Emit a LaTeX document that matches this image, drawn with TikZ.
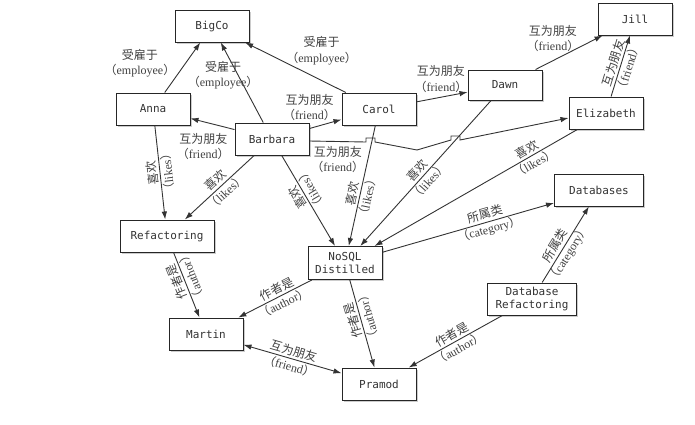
\documentclass[tikz,border=0pt]{standalone}
\usepackage{fontspec}
\setmainfont{Liberation Serif}
\setmonofont{DejaVu Sans Mono}
\newfontfamily\cjk{Noto Sans CJK SC}
\usetikzlibrary{arrows.meta,shadows}
\newcommand{\reltext}[2]{{\cjk #1}\\{\cjk （}#2{\cjk ）}}

\begin{document}
\begin{tikzpicture}[
        x=1pt, y=-1pt,
        >={Latex[length=8pt,width=5.5pt]},
        entity/.style={rectangle, draw=black!85, line width=1pt, fill=white,
            minimum width=74pt, minimum height=32pt, inner sep=2pt,
            text=black!80, font=\ttfamily\fontsize{11}{13}\selectfont, align=center,
            drop shadow={shadow xshift=1.5pt, shadow yshift=-1.5pt, fill=black!40}},
        rel/.style={draw=black!80, line width=0.9pt, ->},
        lbl/.style={font=\fontsize{12}{15.5}\selectfont, align=center, inner sep=0pt, text=black!75},
        along/.style={lbl, sloped},
        flipped/.style={lbl, sloped, rotate=180}
    ]
    \useasboundingbox (0,0) rectangle (695,424);

    \node[entity] (bigco) at (212,26) {BigCo};
    \node[entity] (jill) at (635,19) {Jill};
    \node[entity] (anna) at (153,109) {Anna};
    \node[entity] (carol) at (379,109) {Carol};
    \node[entity, minimum height=30pt] (dawn) at (505,85) {Dawn};
    \node[entity] (barbara) at (272,139) {Barbara};
    \node[entity] (elizabeth) at (606,113) {Elizabeth};
    \node[entity, minimum width=94pt] (refactoring) at (167,236) {Refactoring};
    \node[entity, minimum width=89pt] (databases) at (599,190) {Databases};
    \node[entity, minimum height=33pt] (nosql) at (345,263) {NoSQL\\Distilled};
    \node[entity, minimum width=89pt] (dbrefactoring) at (532,299) {Database\\Refactoring};
    \node[entity] (martin) at (206,334) {Martin};
    \node[entity] (pramod) at (379,384) {Pramod};

    \coordinate (hopa) at (366,142);
    \coordinate (bend) at (417,150);
    \coordinate (hopb) at (451,140);

    \draw[rel] (anna) -- node[lbl, pos=.59, left=10pt] {\reltext{受雇于}{employee}} (bigco);
    \draw[rel] (barbara) -- node[lbl, pos=.59, xshift=-15pt] {\reltext{受雇于}{employee}} (bigco);
    \draw[rel] (carol) -- node[lbl, pos=.24, yshift=30pt] {\reltext{受雇于}{employee}} (bigco);
    \draw[rel] (barbara) -- node[lbl, pos=.71, yshift=-25pt] {\reltext{互为朋友}{friend}} (anna);
    \draw[rel] (barbara) -- node[lbl, pos=0, yshift=21pt] {\reltext{互为朋友}{friend}} (carol);
    \draw[rel] (carol) -- node[lbl, pos=.48, yshift=18pt] {\reltext{互为朋友}{friend}} (dawn);
    \draw[rel] (dawn) -- node[lbl, pos=.26, yshift=22pt] {\reltext{互为朋友}{friend}} (jill);
    \draw[rel] (elizabeth) -- node[along, pos=.51] {\reltext{互为朋友}{friend}} (jill);
    \draw[rel] ([yshift=-2pt]barbara.east) -- node[lbl, yshift=-18pt] {\reltext{互为朋友}{friend}} (hopa)
        -- ++(0,-4) -- ++(9,0) -- ++(0,4) -- (bend) -- (hopb)
        -- ++(0,-4) -- ++(9,0) -- ++(0,4) -- ([yshift=-5pt]elizabeth.west);

    \draw[rel] (anna) -- node[flipped, pos=.5] {\reltext{喜欢}{likes}} (refactoring);
    \draw[rel] (barbara) -- node[along, pos=.48] {\reltext{喜欢}{likes}} (refactoring);
    \draw[rel] (barbara) -- node[flipped, pos=.42] {\reltext{喜欢}{likes}} (nosql);
    \draw[rel] (carol) -- node[along, pos=.58] {\reltext{喜欢}{likes}} (nosql);
    \draw[rel] (dawn) -- node[along, pos=.52] {\reltext{喜欢}{likes}} (nosql);
    \draw[rel] (elizabeth) -- node[along, pos=.23] {\reltext{喜欢}{likes}} (nosql);

    \draw[rel] (nosql) -- node[along, pos=.61] {\reltext{所属类}{category}} (databases);
    \draw[rel] (dbrefactoring) -- node[along, pos=.43] {\reltext{所属类}{category}} (databases);

    \draw[rel] (refactoring) -- node[flipped, pos=.41] {\reltext{作者是}{author}} (martin);
    \draw[rel] (nosql) -- node[along, pos=.43] {\reltext{作者是}{author}} (martin);
    \draw[rel] (nosql) -- node[flipped, pos=.44] {\reltext{作者是}{author}} (pramod);
    \draw[rel] (dbrefactoring) -- node[along, pos=.5] {\reltext{作者是}{author}} (pramod);
    \draw[rel, <->] (martin) -- node[along, pos=.49] {\reltext{互为朋友}{friend}} (pramod);
\end{tikzpicture}
\end{document}
